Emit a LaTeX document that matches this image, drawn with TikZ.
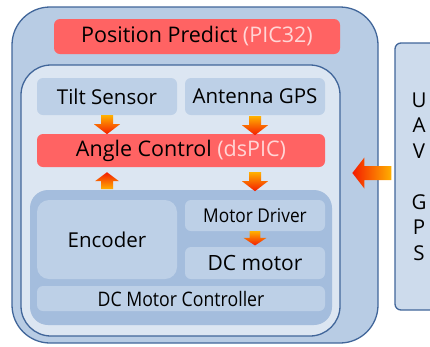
\documentclass[tikz,border=0pt]{standalone}
\usepackage{fontspec}
\setmainfont{Open Sans}
\usetikzlibrary{positioning}

\definecolor{frameline}{HTML}{41669A}
\definecolor{outerblue}{HTML}{B8CCE4}
\definecolor{innerblue}{HTML}{DCE6F2}
\definecolor{cellblue}{HTML}{BDD0E7}
\definecolor{ctrlblue}{HTML}{A4BDDD}
\definecolor{hotred}{HTML}{FF6363}
\definecolor{chiptext}{HTML}{FFD6D6}
\definecolor{arrtail}{HTML}{FFB000}
\definecolor{arrtip}{HTML}{F41C00}

\tikzset{
  pics/fatdown/.style={code={
    \shade[top color=arrtail,bottom color=arrtip]
      (-6,0) -- (6,0) -- (6,9) -- (13,9) -- (0,19) -- (-13,9) -- (-6,9) -- cycle;}},
  pics/fatup/.style={code={
    \shade[top color=arrtip,bottom color=arrtail]
      (0,0) -- (12,9) -- (6,9) -- (6,17) -- (-6,17) -- (-6,9) -- (-12,9) -- cycle;}},
  pics/fatleft/.style={code={
    \shade[left color=arrtip,right color=arrtail]
      (0,0) -- (12,-15.5) -- (12,-7) -- (39,-7) -- (39,7) -- (12,7) -- (12,15.5) -- cycle;}}
}
% narrow lettering for the long motor labels
\newcommand{\narrow}[2]{\scalebox{#1}[1]{#2}}

\begin{document}
\begin{tikzpicture}[x=1pt,y=-1pt,
    frame/.style={draw=frameline,line width=1.3pt,inner sep=0pt},
    cell/.style={fill=cellblue,rounded corners=6pt,inner sep=0pt,font=\fontsize{20.5}{24}\selectfont},
    chip/.style={fill=hotred,rounded corners=6pt,inner sep=0pt,font=\fontsize{21.5}{25}\selectfont}]
    \useasboundingbox (0,0) rectangle (430,346);

    % housings
    \node[frame,fill=outerblue,rounded corners=38pt,minimum width=366pt,minimum height=336pt] (outer) at (195,175) {};
    \node[frame,fill=outerblue!70!white,rounded corners=6pt,minimum width=48pt,minimum height=267pt,
          align=center,font=\fontsize{20.5}{25.5}\selectfont] (uav) at (419,176.5) {U\\A\\V\\\mbox{}\\G\\P\\S};
    \node[chip,minimum width=286pt,minimum height=35pt] (pos) at (197,36.5) {Position Predict {\color{chiptext}(PIC32)}};
    \node[frame,fill=innerblue,rounded corners=30pt,minimum width=319pt,minimum height=271pt] (inner) at (180.5,200.5) {};

    % sensors and angle loop
    \node[cell,minimum width=140pt,minimum height=37pt] (tilt) at (107,96.5) {Tilt Sensor};
    \node[cell,minimum width=140pt,minimum height=37pt] (gps) at (255,96.5) {Antenna GPS};
    \node[chip,minimum width=288pt,minimum height=33pt] (angle) at (181,150.5) {Angle Control {\color{chiptext}(dsPIC)}};

    % motor controller block
    \node[fill=ctrlblue,rounded corners=18pt,minimum width=302pt,minimum height=135pt] (ctrl) at (181,257.5) {};
    \node[cell,rounded corners=12pt,minimum width=140pt,minimum height=79pt] (enc) at (107,239.5) {Encoder};
    \node[cell,minimum width=140pt,minimum height=31pt,font=\fontsize{19}{22}\selectfont] (drv) at (255,215.5) {\narrow{.91}{Motor Driver}};
    \node[cell,minimum width=140pt,minimum height=32pt,font=\fontsize{21}{24}\selectfont] (motor) at (255,263) {DC motor};
    \node[cell,minimum width=288pt,minimum height=25pt,font=\fontsize{20}{22}\selectfont] (ctrllabel) at (181,298.5) {\narrow{.885}{DC Motor Controller}};

    % block arrows
    \pic at (tilt.south) {fatdown};
    \pic[shift={(0,1)}] at (gps.south) {fatdown};
    \pic[shift={(0,5)}] at (angle.south -| drv) {fatdown};
    \pic[shift={(0,5)}] at (angle.south -| enc) {fatup};
    \pic[xscale=.88,yscale=.75] at (drv.south) {fatdown};
    \pic[shift={(-42,-3.5)}] at (uav.west) {fatleft};
\end{tikzpicture}
\end{document}
